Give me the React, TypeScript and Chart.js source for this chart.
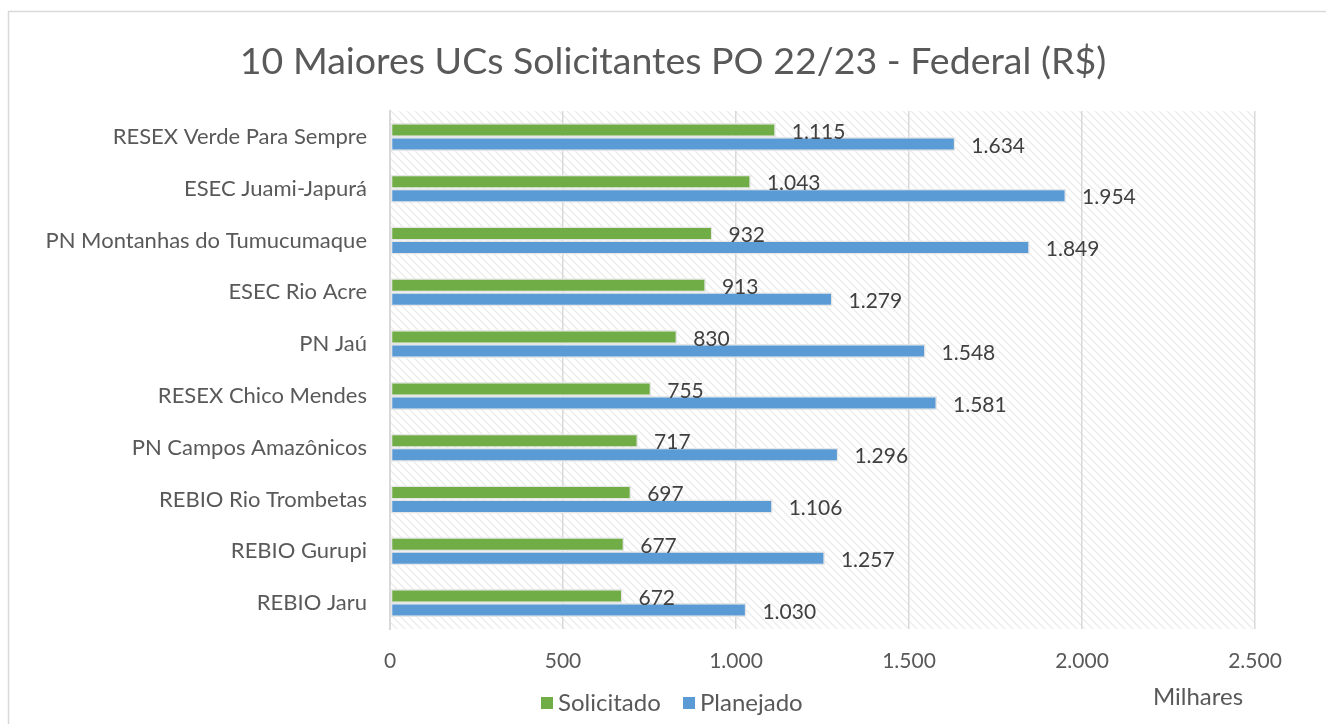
import React, { useEffect, useRef } from "react";
import { Chart, registerables } from "chart.js";

Chart.register(...registerables);

const categories = [
  "RESEX Verde Para Sempre",
  "ESEC Juami-Japurá",
  "PN Montanhas do Tumucumaque",
  "ESEC Rio Acre",
  "PN Jaú",
  "RESEX Chico Mendes",
  "PN Campos Amazônicos",
  "REBIO Rio Trombetas",
  "REBIO Gurupi",
  "REBIO Jaru",
];
const solicitado = [1115, 1043, 932, 913, 830, 755, 717, 697, 677, 672];
const planejado = [1634, 1954, 1849, 1279, 1548, 1581, 1296, 1106, 1257, 1030];
const seriesNames = ["Solicitado", "Planejado"];
const titleText = "10 Maiores UCs Solicitantes PO 22/23 - Federal (R$)";
const unitText = "Milhares";

const GREEN = "#70AD47";
const BLUE = "#5B9BD5";
const FONT = "Lato";

function fmt(v: number): string {
  const s = Math.round(v).toString();
  return s.replace(/\B(?=(\d{3})+(?!\d))/g, ".");
}

function makeHatch(ctx: CanvasRenderingContext2D) {
  const c = document.createElement("canvas");
  c.width = 8;
  c.height = 8;
  const g = c.getContext("2d")!;
  g.fillStyle = "#ffffff";
  g.fillRect(0, 0, 8, 8);
  g.strokeStyle = "#ebebeb";
  g.lineWidth = 1.3;
  g.beginPath();
  g.moveTo(-2, -2);
  g.lineTo(10, 10);
  g.moveTo(-10, -2);
  g.lineTo(2, 10);
  g.moveTo(6, -2);
  g.lineTo(18, 10);
  g.stroke();
  return ctx.createPattern(c, "repeat");
}

const decorPlugin = {
  id: "decor",
  beforeDraw(chart: any) {
    const { ctx, chartArea } = chart;
    ctx.save();
    const pat = makeHatch(ctx);
    if (pat) {
      ctx.fillStyle = pat;
      ctx.fillRect(chartArea.left, chartArea.top, chartArea.right - chartArea.left, chartArea.bottom - chartArea.top);
    }
    ctx.strokeStyle = "#d9d9d9";
    ctx.lineWidth = 1.5;
    ctx.strokeRect(8.5, 11.5, 1400, 800);
    ctx.restore();
  },
  afterDraw(chart: any) {
    const { ctx } = chart;
    ctx.save();
    ctx.fillStyle = "#595959";
    ctx.font = `37.5px ${FONT}`;
    ctx.textAlign = "center";
    ctx.textBaseline = "middle";
    ctx.fillText(titleText, 673, 62);
    ctx.font = `24px ${FONT}`;
    ctx.fillText(unitText, 1198, 697);
    const items = [
      { name: seriesNames[0], color: GREEN, x: 541 },
      { name: seriesNames[1], color: BLUE, x: 683 },
    ];
    ctx.textAlign = "left";
    for (const it of items) {
      ctx.fillStyle = it.color;
      ctx.fillRect(it.x, 697, 12, 12);
      ctx.fillStyle = "#595959";
      ctx.fillText(it.name, it.x + 17, 703);
    }
    ctx.restore();
  },
  afterDatasetsDraw(chart: any) {
    const { ctx } = chart;
    ctx.save();
    ctx.fillStyle = "#404040";
    ctx.font = `21px ${FONT}`;
    ctx.textAlign = "left";
    ctx.textBaseline = "middle";
    chart.data.datasets.forEach((ds: any, di: number) => {
      const meta = chart.getDatasetMeta(di);
      meta.data.forEach((bar: any, i: number) => {
        ctx.fillText(fmt(ds.data[i]), bar.x + 16, bar.y + 2);
      });
    });
    ctx.restore();
  },
};

export default function App() {
  const ref = useRef<HTMLCanvasElement>(null);
  useEffect(() => {
    if (!ref.current) return;
    const chart = new Chart(ref.current, {
      type: "bar",
      data: {
        labels: categories,
        datasets: [
          {
            label: seriesNames[0],
            data: solicitado,
            backgroundColor: GREEN,
            borderColor: "#e6e6e6",
            borderWidth: 1.5,
            borderSkipped: false,
            barPercentage: 1,
            categoryPercentage: 0.54,
          },
          {
            label: seriesNames[1],
            data: planejado,
            backgroundColor: BLUE,
            borderColor: "#e6e6e6",
            borderWidth: 1.5,
            borderSkipped: false,
            barPercentage: 1,
            categoryPercentage: 0.54,
          },
        ],
      },
      options: {
        indexAxis: "y",
        animation: false,
        responsive: true,
        maintainAspectRatio: false,
        layout: { padding: { top: 111, right: 71, left: 0, bottom: 0 } },
        plugins: {
          legend: { display: false },
          title: { display: false },
          tooltip: { enabled: false },
        },
        scales: {
          x: {
            min: 0,
            max: 2500,
            ticks: {
              stepSize: 500,
              padding: 20,
              color: "#595959",
              font: { family: FONT, size: 21 },
              callback: (v: any) => fmt(Number(v)),
            },
            grid: { color: "#d9d9d9", lineWidth: 1.5, drawTicks: false },
            border: { display: false },
            afterFit: (s: any) => {
              s.height = 95;
            },
          },
          y: {
            ticks: {
              padding: 23,
              color: "#595959",
              font: { family: FONT, size: 22 },
            },
            grid: { display: false, drawTicks: false },
            border: { display: true, color: "#d9d9d9", width: 2 },
            afterFit: (s: any) => {
              s.width = 390;
            },
          },
        },
      },
      plugins: [decorPlugin],
    });
    return () => chart.destroy();
  }, []);
  return (
    <div style={{ position: "fixed", left: 0, top: 0, width: 1326, height: 724, background: "#fff" }}>
      <canvas ref={ref} />
    </div>
  );
}
